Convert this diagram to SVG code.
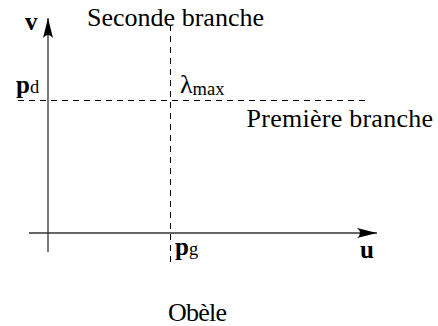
<svg xmlns="http://www.w3.org/2000/svg" width="438" height="326" viewBox="0 0 438 326">
<style>
text{font-family:'Liberation Serif','Times New Roman',serif;fill:#000}
.t{font-size:26px}
.b{font-size:25px;font-weight:bold}
.s{font-size:18.5px;font-weight:normal}
.axis{stroke:#333;stroke-width:1.3;fill:none}
.dash{stroke:#000;stroke-width:1;stroke-dasharray:6 5;fill:none}
</style>
<defs>
<marker id="arr" viewBox="0 0 20 10" refX="20" refY="5" markerWidth="20" markerHeight="10" markerUnits="userSpaceOnUse" orient="auto">
<path d="M0,0 Q6,5 0,10 L20,5 Z" fill="#000"/>
</marker>
</defs>
<g id="connectors">
<line class="axis" x1="29" y1="233" x2="377" y2="233" marker-end="url(#arr)"/>
<line class="axis" x1="48" y1="252" x2="48" y2="18" marker-end="url(#arr)"/>
<line class="dash" x1="170.5" y1="25" x2="170.5" y2="266"/>
<line class="dash" x1="18" y1="100.5" x2="366" y2="100.5"/>
</g>
<g id="v"><text class="b" x="25" y="30">v</text></g>
<g id="u"><text class="b" x="360" y="258">u</text></g>
<g id="pd"><text class="b" x="16" y="93">p<tspan class="s">d</tspan></text></g>
<g id="pg"><text class="b" x="175" y="255">p<tspan class="s">g</tspan></text></g>
<g id="lambda"><text class="t" x="180" y="93">λ<tspan class="s" dy="2">max</tspan></text></g>
<g id="seconde"><text class="t" x="87" y="26" textLength="177" lengthAdjust="spacing">Seconde branche</text></g>
<g id="premiere"><text class="t" x="246.5" y="127" textLength="186.5" lengthAdjust="spacing">Première branche</text></g>
<g id="obele"><text class="t" x="168" y="321" textLength="59" lengthAdjust="spacing">Obèle</text></g>
</svg>
